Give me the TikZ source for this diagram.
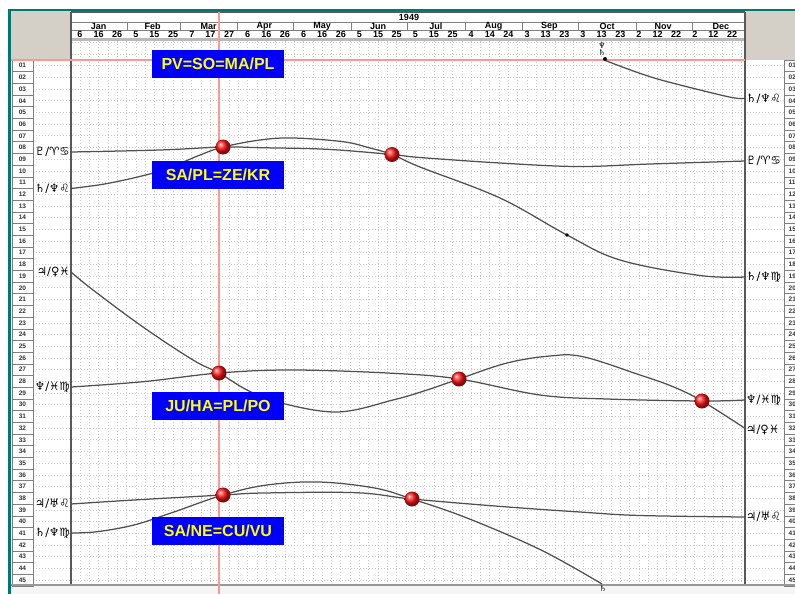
\documentclass[tikz,border=0pt]{standalone}
\usepackage{fontspec}
\setmainfont{Liberation Sans}
\newfontfamily\astro{DejaVu Sans}
\usepackage{xcolor}
\usetikzlibrary{calc,positioning,shapes}
\definecolor{frameteal}{RGB}{0,120,110}
\definecolor{wingray}{RGB}{212,208,200}
\definecolor{dotgray}{RGB}{200,200,200}
\definecolor{marker}{RGB}{255,150,150}
\definecolor{tracegray}{RGB}{80,80,80}
\definecolor{tagblue}{RGB}{0,0,250}
\definecolor{tagyellow}{RGB}{255,255,0}
\definecolor{ballred}{RGB}{255,20,20}
\tikzset{%
	tag/.style      = {fill=tagblue, text=tagyellow, font=\fontsize{16}{16}\selectfont\bfseries, minimum width=132pt, minimum height=28pt, inner sep=0pt, text centered},
	sphere/.style   = {circle, minimum size=15pt, inner sep=0pt, ball color=ballred},
	trace/.style    = {tracegray, line width=1.25pt, smooth, tension=0.6},
	gridline/.style = {dotgray, line width=0.7pt, dash pattern=on 1pt off 2pt},
	rownum/.style   = {font=\fontsize{6.5}{6.5}\selectfont\bfseries, text=black!80, inner sep=0pt},
	sign/.style     = {font=\astro\fontsize{11.5}{11.5}\selectfont, inner sep=1pt},
	small sign/.style = {font=\astro\fontsize{8}{8}\selectfont, inner sep=0pt},
	head/.style     = {font=\fontsize{9}{9}\selectfont\bfseries, inner sep=0pt},
	frame/.style    = {gray!70!black, line width=1.2pt},
}

\begin{document}
\begin{tikzpicture}[x=1pt,y=-1pt]
	\useasboundingbox (0,0) rectangle (795,594);
	\fill[white] (0,0) rectangle (795,594);
	
	% dotted grid
	\foreach \k in {0,...,72}
		\draw[gridline] ({68.8+1.863*(1+5*\k)},41) -- ++(0,544);
	\foreach \r in {-1,...,45}
		\draw[gridline] (33,{65.7+11.69*(\r-1)}) -- (784,{65.7+11.69*(\r-1)});
	
	% window frame and corner boxes
	\fill[frameteal] (8,9) rectangle (795,11.5);
	\fill[frameteal] (8,9) rectangle (10.5,594);
	\fill[wingray] (10.5,11.5) rectangle (71,60);
	\fill[wingray] (745,11.5) rectangle (795,60);
	\fill[gray!8] (10.5,586) rectangle (795,594);
	
	% row numbers
	\foreach \r in {1,...,45}{
		\pgfmathsetmacro{\y}{65.7+11.69*(\r-1)}
		\draw[gray, fill=white] (12,\y-5.85) rectangle (33,\y+5.85);
		\node[rownum] (ln\r) at (22.5,\y) {\ifnum\r<10 0\fi\r};
		\draw[gray, fill=white] (784,\y-5.85) rectangle (800,\y+5.85);
		\node[rownum, anchor=west] (rn\r) at (788.5,\y) {\ifnum\r<10 0\fi\r};
	}
	
	% calendar header
	\draw[frame] (71,12) -- (745,12);
	\draw[gray] (71,22.5) -- (745,22.5);
	\draw[gray] (71,30) -- (745,30);
	\fill[gray!55] (71,38) rectangle (745,41);
	\node[head] (year) at (409,17) {1949};
	\foreach \e in {31,59,90,120,151,181,212,243,273,304,334}
		\draw[gray] ({68.8+1.863*(\e+0.6)},22.5) -- ++(0,7.5);
	\foreach \m/\c in {Jan/16,Feb/45,Mar/75,Apr/105,May/136,Jun/166,Jul/197,Aug/228,Sep/258,Oct/289,Nov/319,Dec/350}
		\node[head] (m\m) at ({68.8+1.863*\c},26.3) {\m};
	\foreach \d [count=\i from 0] in {6,16,26,5,15,25,7,17,27,6,16,26,6,16,26,5,15,25,5,15,25,4,14,24,3,13,23,3,13,23,2,12,22,2,12,22}
		\node[head] (d\i) at ({68.8+1.863*(6+10*\i)},34.3) {\d};
	
	% frame lines
	\draw[frame] (71,12) -- (71,585);
	\draw[frame] (745,12) -- (745,585);
	\draw[gray!80, line width=2pt] (11,585) -- (795,585);
	
	% date and zero markers
	\draw[marker, line width=1.2pt] (11,60) -- (745,60);
	\draw[marker, line width=1.2pt] (219,12) -- (219,594);
	
	% crossing points
	\coordinate (p1) at (223,147);
	\coordinate (p2) at (392,154.5);
	\coordinate (p3) at (219,373);
	\coordinate (p4) at (459,379);
	\coordinate (p5) at (702,401);
	\coordinate (p6) at (223,495);
	\coordinate (p7) at (412,499);
	\coordinate (top) at (604,60);
	\coordinate (bot) at (602,584);
	
	% midpoint traces
	\draw[trace] plot coordinates {(top) (650,76.7) (700,90) (733,97.7) (745,98.5)};
	\draw[trace] plot coordinates {(71,152) (160,150) (p1) (260,147.7) (327,149.3) (p2) (420,157.5) (500,163) (577,166.5) (650,164) (745,161)};
	\draw[trace] plot coordinates {(71,188.5) (110,183) (160,171) (200,155) (p1) (260,140) (293,138) (343,141.7) (370,148) (p2) (420,167) (500,198) (567,235) (620,260) (700,275.5) (745,277)};
	\draw[trace] plot coordinates {(71,272) (93,290) (143,327) (193,360) (p3) (247,390) (277,402) (337,412) (393,400) (427,390) (p4) (507,363) (550,356) (583,356.7) (640,375) (673,386.7) (p5) (746,429)};
	\draw[trace] plot coordinates {(71,387) (143,381.7) (p3) (293,370) (393,373.3) (p4) (540,395) (607,399) (p5) (745,400)};
	\draw[trace] plot coordinates {(71,504) (134,500) (p6) (263.5,493) (356,492.7) (p7) (504,506.7) (580,512) (640,515.5) (745,517)};
	\draw[trace] plot coordinates {(71,533) (97,531.7) (134,525) (171,513) (p6) (267,485) (319,482) (374.6,488) (p7) (467,518) (541,550) (bot)};
	\fill[black] (567,235) circle (1.8);
	\fill[black] (605,59) circle (2);
	
	% crossings
	\foreach \p in {1,...,7}
		\node[sphere] (b\p) at (p\p) {};
	
	% event tags
	\node[tag] (tagPV) at (218,64) {PV=SO=MA/PL};
	\node[tag] (tagSA) at (218,175) {SA/PL=ZE/KR};
	\node[tag] (tagJU) at (218,406) {JU/HA=PL/PO};
	\node[tag] (tagNE) at (218,531) {SA/NE=CU/VU};
	
	% pair labels
	\node[sign, anchor=east] (l1) at (71,152) {♇/♈♋};
	\node[sign, anchor=east] (l2) at (71,188.5) {♄/♆♌};
	\node[sign, anchor=east] (l3) at (71,272) {♃/♀♓};
	\node[sign, anchor=east] (l4) at (71,387) {♆/♓♍};
	\node[sign, anchor=east] (l5) at (71,504) {♃/♅♌};
	\node[sign, anchor=east] (l6) at (71,533) {♄/♆♍};
	\node[sign, anchor=west] (r1) at (745,98.5) {♄/♆♌};
	\node[sign, anchor=west] (r2) at (745,161) {♇/♈♋};
	\node[sign, anchor=west] (r3) at (745,277) {♄/♆♍};
	\node[sign, anchor=west] (r4) at (745,400) {♆/♓♍};
	\node[sign, anchor=west] (r5) at (745,430) {♃/♀♓};
	\node[sign, anchor=west] (r6) at (745,517) {♃/♅♌};
	\node[small sign] (nep) at (602,45.5) {♆};
	\node[small sign, below=0.5pt of nep] (sat) {♄};
	\node[small sign] (satb) at (603,589) {♄};
	
\end{tikzpicture}
\end{document}
